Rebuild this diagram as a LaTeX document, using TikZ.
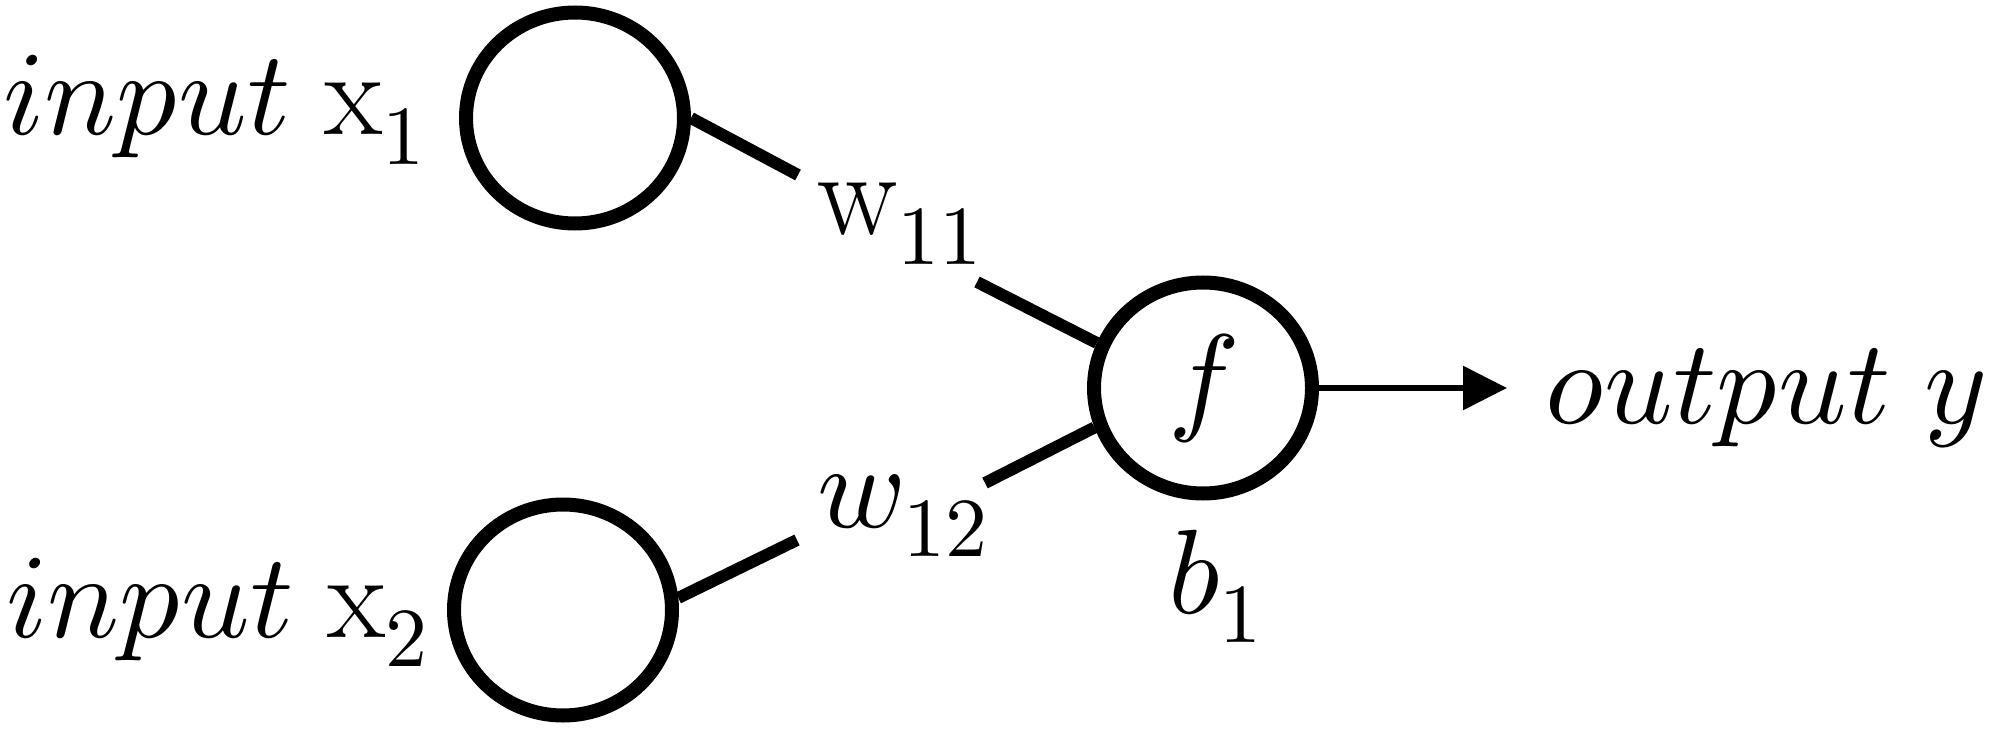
\documentclass[tikz,border=0pt]{standalone}
\usepackage{unicode-math}
\setmathfont{Latin Modern Math}
\usetikzlibrary{shapes.geometric,arrows.meta}
\begin{document}
\begin{tikzpicture}[x=1pt,y=-1pt,
  neuron/.style={ellipse, draw, line width=14pt, minimum width=218pt, minimum height=211pt, inner sep=0pt},
  txt/.style={font=\fontsize{120}{144}\selectfont},
  lab/.style={txt, inner sep=0pt, anchor=base west},
  conn/.style={line width=12pt},
  outarrow/.style={line width=6pt, -{Triangle[length=44pt,width=43pt]}, shorten >=38pt}]
\useasboundingbox[fill=white] (0,0) rectangle (1997,730);
\node[neuron] (in1) at (575,118) {};
\node[neuron] (in2) at (563,610) {};
\node[neuron, txt] (f) at (1203,388) {$f$};
\node[lab] (x1) at (3,135) {$input\;\mathrm{x}_1$};
\node[lab] (x2) at (6,637) {$input\;\mathrm{x}_2$};
\node[lab] (w11) at (817,235) {$\mathrm{w}_{11}$};
\node[lab] (w12) at (817,527) {$w_{12}$};
\node[lab] (b1) at (1168,613) {$b_1$};
\node[lab] (out) at (1545,423) {$output\;y$};
\coordinate (a1) at (798,175);
\coordinate (a2) at (977,282);
\coordinate (c1) at (797,540);
\coordinate (c2) at (985,483);
\draw[conn] (in1.east) -- (a1);
\draw[conn] (a2) -- (f.157);
\draw[conn] (in2.6) -- (c1);
\draw[conn] (c2) -- (f.200);
\draw[outarrow] (f.east) -- (f.east -| out.west);
\end{tikzpicture}
\end{document}
